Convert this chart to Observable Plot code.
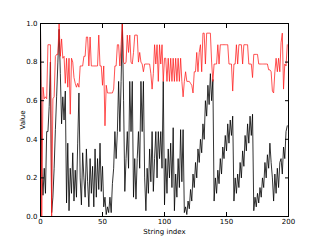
<!DOCTYPE html>
<html>
<head>
<meta charset="utf-8">
<script src="https://cdn.jsdelivr.net/npm/d3@7"></script>
<script src="https://cdn.jsdelivr.net/npm/@observablehq/plot@0.6"></script>
<style>
  html, body { margin: 0; padding: 0; background: #fff; }
  #chart svg { display: block; }
</style>
</head>
<body>
<div id="chart"></div>
<script>
const redValues = [
  0.98, 0.00, 0.67, 0.61, 0.62, 0.61, 0.89, 0.89, 0.89, 0.00,
  0.61, 0.62, 0.83, 0.84, 0.84, 1.00, 0.83, 0.92, 0.82, 0.83,
  0.69, 0.82, 0.67, 0.82, 0.53, 0.82, 0.80, 0.72, 0.69, 0.67,
  0.69, 0.67, 0.78, 0.78, 0.78, 0.83, 0.83, 0.93, 0.93, 0.78,
  0.93, 0.78, 0.78, 0.78, 0.78, 0.78, 0.78, 0.94, 0.78, 0.78,
  0.68, 0.78, 0.47, 0.68, 0.64, 0.64, 0.64, 0.64, 0.64, 0.66,
  0.78, 0.78, 0.89, 0.89, 0.78, 0.89, 1.00, 0.80, 0.79, 0.80,
  0.94, 0.85, 0.94, 0.80, 0.79, 0.85, 0.94, 0.94, 0.94, 0.80,
  0.85, 0.80, 0.79, 0.75, 0.79, 0.79, 0.79, 0.79, 0.79, 0.74,
  0.66, 0.74, 0.89, 0.79, 0.89, 0.70, 0.89, 0.79, 0.89, 0.70,
  0.82, 0.82, 0.70, 0.82, 0.70, 0.82, 0.70, 0.82, 0.70, 0.82,
  0.70, 0.82, 0.70, 0.82, 0.70, 0.62, 0.70, 0.75, 0.70, 0.70,
  0.70, 0.69, 0.68, 0.64, 0.75, 0.75, 0.85, 0.75, 0.85, 0.89,
  0.75, 0.95, 0.95, 0.79, 0.95, 0.95, 0.95, 0.95, 0.80, 0.70,
  0.79, 0.79, 0.79, 0.89, 0.79, 0.89, 0.89, 0.89, 0.89, 0.89,
  0.89, 0.89, 0.79, 0.79, 0.79, 0.65, 0.79, 0.79, 0.89, 0.79,
  0.89, 0.89, 0.89, 0.79, 0.89, 0.89, 0.89, 0.89, 0.79, 0.79,
  0.79, 0.72, 0.84, 0.84, 0.84, 0.84, 0.79, 0.79, 0.79, 0.79,
  0.79, 0.79, 0.79, 0.79, 0.76, 0.76, 0.75, 0.65, 0.64, 0.75,
  0.82, 0.75, 0.82, 0.75, 0.90, 0.95, 0.66, 0.79, 0.78, 0.89
];
const blackValues = [
  0.98, 0.25, 0.11, 0.25, 0.12, 0.44, 0.44, 0.57, 0.80, 0.02,
  0.10, 0.25, 0.45, 0.62, 0.80, 0.97, 0.74, 0.48, 0.62, 0.50,
  0.65, 0.07, 0.38, 0.03, 0.25, 0.12, 0.33, 0.08, 0.24, 0.10,
  0.38, 0.64, 0.20, 0.06, 0.33, 0.20, 0.10, 0.35, 0.18, 0.05,
  0.30, 0.12, 0.26, 0.05, 0.35, 0.10, 0.30, 0.14, 0.38, 0.13,
  0.26, 0.05, 0.10, 0.01, 0.05, 0.02, 0.10, 0.02, 0.17, 0.25,
  0.44, 0.30, 0.44, 0.70, 0.44, 0.70, 1.00, 0.60, 0.13, 0.30,
  0.44, 0.25, 0.70, 0.44, 0.70, 0.10, 0.30, 0.09, 0.30, 0.44,
  0.25, 0.70, 0.44, 0.70, 0.20, 0.03, 0.25, 0.12, 0.35, 0.18,
  0.44, 0.13, 0.30, 0.44, 0.20, 0.44, 0.30, 0.44, 0.25, 0.70,
  0.06, 0.30, 0.12, 0.35, 0.20, 0.38, 0.15, 0.46, 0.03, 0.22,
  0.10, 0.30, 0.15, 0.45, 0.18, 0.45, 0.02, 0.05, 0.01, 0.08,
  0.04, 0.14, 0.08, 0.22, 0.15, 0.28, 0.20, 0.35, 0.28, 0.40,
  0.33, 0.48, 0.40, 0.60, 0.52, 0.68, 0.58, 0.74, 0.60, 0.71,
  0.08, 0.20, 0.12, 0.24, 0.17, 0.30, 0.22, 0.36, 0.30, 0.42,
  0.34, 0.48, 0.38, 0.50, 0.42, 0.52, 0.08, 0.20, 0.12, 0.22,
  0.15, 0.28, 0.20, 0.34, 0.26, 0.42, 0.34, 0.48, 0.38, 0.52,
  0.42, 0.53, 0.03, 0.10, 0.05, 0.12, 0.07, 0.15, 0.10, 0.20,
  0.15, 0.28, 0.20, 0.32, 0.25, 0.38, 0.28, 0.20, 0.08, 0.22,
  0.12, 0.25, 0.15, 0.28, 0.30, 0.22, 0.36, 0.30, 0.44, 0.47
];
const xTicks = [0, 50, 100, 150, 200];
const yTicks = [0, 0.2, 0.4, 0.6, 0.8, 1.0];

const red = redValues.map((v, i) => ({i, v}));
const black = blackValues.map((v, i) => ({i, v}));

const chart = Plot.plot({
  width: 320,
  height: 240,
  marginLeft: 40,
  marginRight: 32,
  marginTop: 23,
  marginBottom: 24,
  style: {fontFamily: "DejaVu Sans", fontSize: "7px", background: "#fff", color: "#000"},
  x: {domain: [0, 200]},
  y: {domain: [0, 1]},
  marks: [
    Plot.line(black, {x: "i", y: "v", stroke: "#000", strokeWidth: 0.8}),
    Plot.line(red, {x: "i", y: "v", stroke: "#ff1a1a", strokeWidth: 0.75}),
    Plot.frame({stroke: "#000", strokeWidth: 1}),
    Plot.axisX(xTicks, {anchor: "bottom", tickSize: 0, tickPadding: 3, tickFormat: d3.format("d"), label: "String index", labelAnchor: "center", labelArrow: "none", labelOffset: 17}),
    Plot.axisX(xTicks, {anchor: "bottom", tickSize: 4, dy: -4, fill: "none", label: null}),
    Plot.axisX(xTicks, {anchor: "top", tickSize: 4, dy: 4, fill: "none", label: null}),
    Plot.axisY(yTicks, {anchor: "left", tickSize: 0, tickPadding: 3, tickFormat: d3.format(".1f"), label: "Value", labelAnchor: "center", labelArrow: "none", labelOffset: 20}),
    Plot.axisY(yTicks, {anchor: "left", tickSize: 4, dx: 4, fill: "none", label: null}),
    Plot.axisY(yTicks, {anchor: "right", tickSize: 4, dx: -4, fill: "none", label: null})
  ]
});
document.getElementById("chart").appendChild(chart);
</script>
</body>
</html>
